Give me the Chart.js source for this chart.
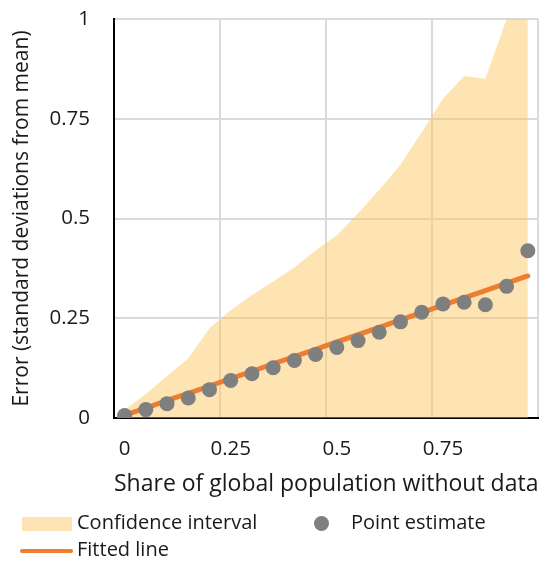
<!DOCTYPE html>
<html lang="en">
<head>
  <meta charset="UTF-8" />
  <title>Error vs share of population without data</title>
  <script src="https://cdn.jsdelivr.net/npm/chart.js"></script>
  <style>
    body { margin: 0; background: #fff; font-family: "Open Sans", sans-serif; color: #1a1a1a; }
    #wrap { position: relative; width: 547px; height: 563px; }
    #legend { position: absolute; left: 0; top: 0; width: 547px; height: 563px; pointer-events: none; }
    .lg-text { position: absolute; font-size: 20px; line-height: 24px; white-space: nowrap; }
    .lg-swatch { position: absolute; background: rgb(254, 228, 178); }
    .lg-dot { position: absolute; background: #7f7f7f; border-radius: 50%; }
    .lg-line { position: absolute; background: #ed7d31; border-radius: 2px; }
  </style>
</head>
<body>
  <div id="wrap">
    <canvas id="chart" width="547" height="505"></canvas>
    <div id="legend">
      <div class="lg-swatch" style="left:22px; top:517px; width:50px; height:14px;"></div>
      <div class="lg-text" style="left:77px; top:510px;">Confidence interval</div>
      <div class="lg-dot" style="left:314px; top:516px; width:15px; height:15px;"></div>
      <div class="lg-text" style="left:351px; top:510px;">Point estimate</div>
      <div class="lg-line" style="left:20px; top:549px; width:53px; height:4px;"></div>
      <div class="lg-text" style="left:77px; top:537px;">Fitted line</div>
    </div>
  </div>

  <script>
    // share of global population without data (categories)
    const shareLabels = ['0', '0.05', '0.1', '0.15', '0.2', '0.25', '0.3', '0.35', '0.4', '0.45',
                         '0.5', '0.55', '0.6', '0.65', '0.7', '0.75', '0.8', '0.85', '0.9', '0.95'];
    const xTickLabels = ['0', '0.25', '0.5', '0.75'];

    // upper bound of the confidence interval (filled down to 0)
    const ciUpper = [0.02, 0.06, 0.105, 0.15, 0.225, 0.27, 0.308, 0.342, 0.377, 0.42,
                     0.458, 0.513, 0.572, 0.635, 0.716, 0.80, 0.857, 0.85, 1.0, 1.1];

    const pointEstimate = [0.006, 0.021, 0.036, 0.05, 0.071, 0.094, 0.111, 0.126, 0.144, 0.159,
                           0.177, 0.194, 0.215, 0.241, 0.265, 0.286, 0.29, 0.284, 0.33, 0.419];

    const fittedLine = [0.007, 0.025, 0.044, 0.062, 0.080, 0.099, 0.117, 0.136, 0.154, 0.172,
                        0.191, 0.209, 0.227, 0.246, 0.264, 0.283, 0.301, 0.319, 0.338, 0.356];

    const yTicks = [0, 0.25, 0.5, 0.75, 1];

    const TICK_FONT = { family: '"Open Sans", sans-serif', size: 20.5 };
    const GRID = '#dadada';

    new Chart(document.getElementById('chart'), {
      type: 'line',
      data: {
        labels: shareLabels,
        datasets: [
          {
            label: 'Point estimate',
            data: pointEstimate,
            showLine: false,
            pointRadius: 7.5,
            pointBackgroundColor: '#7f7f7f',
            pointBorderWidth: 0,
            order: 0
          },
          {
            label: 'Fitted line',
            data: fittedLine,
            borderColor: '#ed7d31',
            borderWidth: 5,
            borderCapStyle: 'round',
            pointRadius: 0,
            tension: 0,
            order: 1
          },
          {
            label: 'Confidence interval',
            data: ciUpper,
            borderWidth: 0,
            borderColor: 'rgba(0,0,0,0)',
            backgroundColor: 'rgba(252, 196, 86, 0.45)',
            fill: 'origin',
            pointRadius: 0,
            tension: 0,
            order: 2
          }
        ]
      },
      options: {
        responsive: false,
        devicePixelRatio: 1,
        animation: false,
        layout: { padding: { top: 19, right: 5, bottom: 0, left: 0 } },
        plugins: { legend: { display: false }, tooltip: { enabled: false } },
        scales: {
          x: {
            type: 'category',
            offset: true,
            afterFit: (s) => { s.height = 87; },
            grid: {
              offset: true,
              drawTicks: false,
              lineWidth: 2,
              color: (ctx) => (ctx.index === undefined || ctx.index % 5 === 0) ? GRID : 'rgba(0,0,0,0)'
            },
            border: { color: '#000', width: 2 },
            ticks: {
              autoSkip: false,
              maxRotation: 0,
              padding: 19,
              color: '#1a1a1a',
              font: TICK_FONT,
              callback: function (v, i) {
                const lab = shareLabels[i];
                return xTickLabels.includes(lab) ? lab : '';
              }
            },
            title: {
              display: true,
              text: 'Share of global population without data',
              color: '#1a1a1a',
              font: { family: '"Open Sans", sans-serif', size: 23 },
              padding: { top: 0, bottom: 7 }
            }
          },
          y: {
            min: 0,
            max: 1,
            afterFit: (s) => { s.width = 114; s.paddingTop = 0; s.paddingBottom = 0; },
            afterBuildTicks: (s) => { s.ticks = yTicks.map(v => ({ value: v })); },
            grid: { drawTicks: false, lineWidth: 2, color: GRID },
            border: { color: '#000', width: 2 },
            ticks: {
              padding: 24,
              color: '#1a1a1a',
              font: TICK_FONT,
              callback: (v) => String(v)
            },
            title: {
              display: true,
              text: 'Error (standard deviations from mean)',
              color: '#1a1a1a',
              font: { family: '"Open Sans", sans-serif', size: 21 },
              padding: { top: 9, bottom: 0 }
            }
          }
        }
      }
    });
  </script>
</body>
</html>
